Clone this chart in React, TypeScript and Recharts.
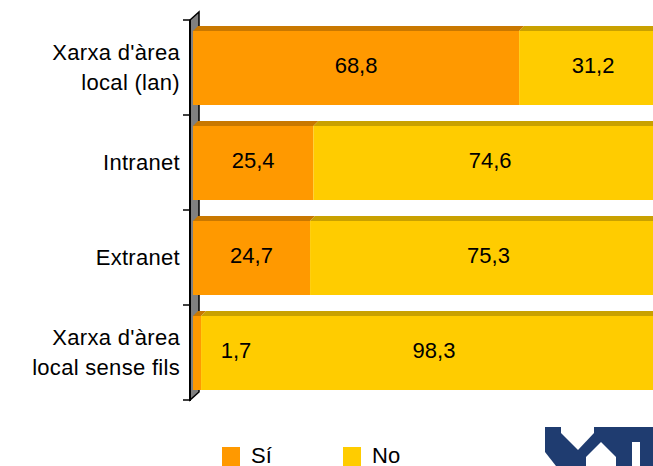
import React from "react";
import { BarChart, Bar, XAxis, YAxis, LabelList, usePlotArea } from "recharts";

const categories = ["Xarxa d'àrea local (lan)", "Intranet", "Extranet", "Xarxa d'àrea local sense fils"];
const categoryLines = [["Xarxa d'àrea", "local (lan)"], ["Intranet"], ["Extranet"], ["Xarxa d'àrea", "local sense fils"]];
const siValues = [68.8, 25.4, 24.7, 1.7];
const noValues = [31.2, 74.6, 75.3, 98.3];
const seriesNames = ["Sí", "No"];

const FRONT = ["#FF9900", "#FFCC00"];
const TOP = ["#C97800", "#C9A100"];
const FONT = "'Liberation Sans', Arial, sans-serif";
const DEPTH = 5;

const data = categories.map((c, i) => ({ name: c, si: siValues[i], no: noValues[i] }));

const makeShape = (idx: number) => (props: any) => {
  const { x, y, width, height } = props;
  if (width == null || height == null) return null;
  return (
    <g>
      <rect x={x} y={y} width={width} height={height} fill={FRONT[idx]} />
      <polygon
        points={`${x},${y} ${x + DEPTH},${y - DEPTH} ${x + width + DEPTH},${y - DEPTH} ${x + width},${y}`}
        fill={TOP[idx]}
      />
    </g>
  );
};

const fmt = (v: number) => v.toFixed(1).replace(".", ",");

const renderLabel = (props: any) => {
  const { x, y, width, height, value } = props;
  const cx = width < 30 ? x + 43 : x + width / 2;
  const cy = y + height / 2 - 3;
  return (
    <text x={cx} y={cy} dy="0.36em" textAnchor="middle" fontFamily={FONT} fontSize={22} fill="#000">
      {fmt(value)}
    </text>
  );
};

const CategoryTick = (props: any) => {
  const { x, y, index } = props;
  const lines = categoryLines[index] || [];
  const lh = 30;
  const start = -((lines.length - 1) * lh) / 2;
  return (
    <text textAnchor="end" fontFamily={FONT} fontSize={22} letterSpacing={0.3} fill="#000">
      {lines.map((l: string, i: number) => (
        <tspan key={i} x={x - 5} y={y + start + i * lh} dy="0.36em">
          {l}
        </tspan>
      ))}
    </text>
  );
};

const Decor = () => {
  const area = usePlotArea();
  if (!area) return null;
  const { x, y, height } = area;
  const ax = x - 3;
  const bottom = y + height;
  const n = categories.length;
  const band = height / n;
  const wx = 9;
  const wy = 8;
  const ticks = Array.from({ length: n + 1 }, (_, i) => y + i * band);
  return (
    <g>
      <polygon
        points={`${ax},${y} ${ax + wx},${y - wy} ${ax + wx},${bottom - wy} ${ax},${bottom}`}
        fill="#808080"
        stroke="#000"
        strokeWidth={1.5}
      />
      <line x1={ax} y1={y} x2={ax} y2={bottom + 1} stroke="#000" strokeWidth={2} />
      {ticks.map((t, i) => (
        <line key={i} x1={ax - 7} y1={t} x2={ax} y2={t} stroke="#000" strokeWidth={1.5} />
      ))}
    </g>
  );
};

const LegendAndLogo = () => (
  <g>
    {seriesNames.map((s, i) => {
      const lx = 222 + i * 121;
      return (
        <g key={s}>
          <rect x={lx} y={447} width={18} height={19} fill={FRONT[i]} />
          <text x={lx + 29} y={463} fontFamily={FONT} fontSize={22} fill="#000">
            {s}
          </text>
        </g>
      );
    })}
    <g>
      <rect x={545} y={427} width={108} height={39} fill="#1F3C70" />
      <polygon points="561,427 594,427 594,433 578,450 561,433" fill="#fff" />
      <polygon points="586,457 601,442 616,457 616,466 586,466" fill="#fff" />
      <polygon points="545,466 545,452 556,466" fill="#fff" />
      <rect x={632} y={442} width={8} height={24} fill="#fff" />
    </g>
  </g>
);

export default function App() {
  return (
    <div style={{ position: "absolute", left: 0, top: 0, width: 653, height: 466, overflow: "hidden", background: "#fff" }}>
      <BarChart
        width={680}
        height={466}
        data={data}
        layout="vertical"
        margin={{ top: 20, right: 13, bottom: 66, left: 0 }}
        barCategoryGap={0}
      >
        <XAxis type="number" domain={[0, 100]} hide />
        <YAxis
          type="category"
          dataKey="name"
          width={193}
          axisLine={false}
          tickLine={false}
          tick={<CategoryTick />}
          interval={0}
        />
        <Decor />
        <Bar dataKey="si" name={seriesNames[0]} stackId="a" barSize={74} shape={makeShape(0)} isAnimationActive={false}>
          <LabelList dataKey="si" content={renderLabel} />
        </Bar>
        <Bar dataKey="no" name={seriesNames[1]} stackId="a" barSize={74} shape={makeShape(1)} isAnimationActive={false}>
          <LabelList dataKey="no" content={renderLabel} />
        </Bar>
        <LegendAndLogo />
      </BarChart>
    </div>
  );
}
